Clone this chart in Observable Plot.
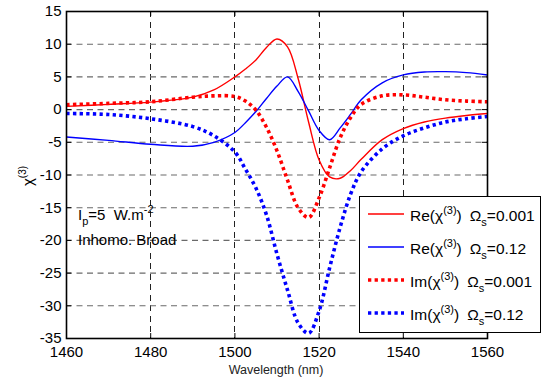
<!DOCTYPE html>
<html>
<head>
<meta charset="utf-8">
<script src="https://cdn.jsdelivr.net/npm/d3@7"></script>
<script src="https://cdn.jsdelivr.net/npm/@observablehq/plot@0.6"></script>
<style>
  html, body { margin: 0; padding: 0; background: white; }
  #chart { position: relative; width: 543px; height: 382px; }
</style>
</head>
<body>
<div id="chart"></div>
<script>
// ---- data ----
const wavelength = [1460, 1470, 1480, 1490, 1495, 1500, 1502.5, 1505, 1507.5, 1510, 1512.5, 1515, 1517.5, 1520, 1522.5, 1525, 1527.5, 1530, 1535, 1540, 1545, 1550, 1555, 1560];
const reChi001 = [0.5, 0.8, 1.15, 1.9, 3.0, 5.0, 6.2, 7.6, 9.5, 10.8, 9.6, 4.8, -1.9, -7.7, -10.3, -10.5, -9.3, -7.6, -4.6, -2.9, -1.9, -1.3, -0.9, -0.6];
const reChi012 = [-4.2, -4.7, -5.3, -5.6, -5.0, -3.5, -2.0, -0.3, 1.7, 3.6, 5.0, 2.8, -0.2, -3.2, -4.6, -2.8, -0.7, 1.5, 4.1, 5.3, 5.75, 5.8, 5.65, 5.3];
const imChi001 = [0.75, 0.95, 1.2, 1.9, 2.1, 2.0, 1.3, -0.1, -2.7, -6.3, -10.8, -15.0, -16.5, -13.5, -8.9, -4.3, -1.2, 0.8, 2.1, 2.25, 1.9, 1.5, 1.3, 1.2];
const imChi012 = [-0.6, -0.75, -1.4, -2.6, -4.0, -6.5, -9.1, -12.0, -16.1, -22.1, -27.6, -32.6, -34.2, -30.8, -24.2, -18.0, -12.9, -9.5, -6.0, -4.0, -2.8, -1.9, -1.4, -1.05];

const seriesKeys = ["re001", "re012", "im001", "im012"];
const seriesPart = ["Re", "Re", "Im", "Im"];
const seriesOmega = ["0.001", "0.12", "0.001", "0.12"];
const seriesColors = ["#ff0000", "#0000ff", "#ff0000", "#0000ff"];
const seriesDotted = [false, false, true, true];
const seriesValues = [reChi001, reChi012, imChi001, imChi012];

const xTicks = [1460, 1480, 1500, 1520, 1540, 1560];
const yTicks = [-35, -30, -25, -20, -15, -10, -5, 0, 5, 10, 15];
const xDomain = [1460, 1560];
const yDomain = [-35, 15];

const xLabel = "Wavelength (nm)";
const annotLine1 = ["I", "p", "=5  W.m", "-2"];
const annotLine2 = "Inhomo. Broad";

// ---- table ----
const rows = seriesKeys.flatMap((k, s) =>
  wavelength.map((w, i) => ({ series: k, w, v: seriesValues[s][i] })));

const font = "'Liberation Sans', Arial, Helvetica, sans-serif";
const tickLenX = 1.2;   // inward tick length in x units (~5px)
const tickLenY = 0.76;  // inward tick length in y units (~5px)

const lineMarks = seriesKeys.map((k, s) =>
  Plot.line(rows.filter(d => d.series === k), {
    x: "w", y: "v", curve: "catmull-rom",
    stroke: seriesColors[s],
    strokeWidth: seriesDotted[s] ? 3.6 : 1.4,
    strokeDasharray: seriesDotted[s] ? "3.3,3.3" : null,
    strokeLinecap: "butt"
  }));

const chart = Plot.plot({
  width: 543,
  height: 382,
  marginLeft: 66,
  marginRight: 56,
  marginTop: 11,
  marginBottom: 44,
  style: { fontFamily: font, fontSize: "15px", color: "black", background: "white", overflow: "visible" },
  x: { domain: xDomain, ticks: xTicks, tickSize: 0, tickPadding: 8, tickFormat: d => String(d), label: null },
  y: { domain: yDomain, ticks: yTicks, tickSize: 0, tickPadding: 5, tickFormat: d => String(d), label: null },
  marks: [
    Plot.ruleX(xTicks.slice(1, -1), { stroke: "#222", strokeWidth: 1, strokeDasharray: "6,4.5", shapeRendering: "crispEdges" }),
    Plot.ruleY(yTicks.slice(1, -1), { stroke: "#6a6a6a", strokeWidth: 1.1, strokeDasharray: "6,4.5" }),
    // inward ticks on all four sides
    Plot.ruleX(xTicks, { y1: yDomain[0], y2: yDomain[0] + tickLenY, stroke: "black" }),
    Plot.ruleX(xTicks, { y1: yDomain[1], y2: yDomain[1] - tickLenY, stroke: "black" }),
    Plot.ruleY(yTicks, { x1: xDomain[0], x2: xDomain[0] + tickLenX, stroke: "black" }),
    Plot.ruleY(yTicks, { x1: xDomain[1], x2: xDomain[1] - tickLenX, stroke: "black" }),
    ...lineMarks,
    Plot.frame({ stroke: "black", strokeWidth: 1.6 })
  ]
});
document.getElementById("chart").appendChild(chart);

// ---- texts and legend ----
const svg = d3.select(chart);

// x label
svg.append("text")
  .attr("x", 276).attr("y", 374)
  .attr("text-anchor", "middle")
  .attr("font-size", 12.5).attr("font-family", font).attr("fill", "#222")
  .text(xLabel);

// y label  χ^(3)
const yl = svg.append("text")
  .attr("transform", "translate(33,176) rotate(-90)")
  .attr("text-anchor", "middle")
  .attr("font-family", font).attr("font-size", 15).attr("fill", "black");
yl.append("tspan").text("χ");
yl.append("tspan").attr("dy", -7).attr("font-size", 10).text("(3)");

// annotation
const a1 = svg.append("text")
  .attr("x", 78).attr("y", 220)
  .attr("text-anchor", "start")
  .attr("font-family", font).attr("font-size", 15).attr("fill", "black");
a1.append("tspan").text(annotLine1[0]);
a1.append("tspan").attr("dy", 5).attr("font-size", 11).text(annotLine1[1]);
a1.append("tspan").attr("dy", -5).text(annotLine1[2]);
a1.append("tspan").attr("dy", -7).attr("font-size", 11).text(annotLine1[3]);

svg.append("text")
  .attr("x", 78).attr("y", 245)
  .attr("text-anchor", "start")
  .attr("font-family", font).attr("font-size", 15).attr("fill", "black")
  .text(annotLine2);

// legend
const lg = svg.append("g").attr("text-anchor", "start");
lg.append("rect")
  .attr("x", 359.5).attr("y", 196.5).attr("width", 181).attr("height", 136)
  .attr("fill", "white").attr("stroke", "black").attr("stroke-width", 1);
seriesKeys.forEach((k, s) => {
  const cy = 214 + s * 33;
  lg.append("line")
    .attr("x1", 368).attr("x2", 404).attr("y1", cy).attr("y2", cy)
    .attr("stroke", seriesColors[s])
    .attr("stroke-width", seriesDotted[s] ? 3.6 : 1.4)
    .attr("stroke-dasharray", seriesDotted[s] ? "3.3,3.3" : null);
  const t = lg.append("text")
    .attr("x", 410).attr("y", cy + 6.5)
    .attr("text-anchor", "start")
    .attr("font-family", font).attr("font-size", 15.5).attr("fill", "black");
  t.append("tspan").text(seriesPart[s] + "(χ");
  t.append("tspan").attr("dy", -7).attr("font-size", 11).text("(3)");
  t.append("tspan").attr("dy", 7).text(")");
  t.append("tspan").attr("dx", 8).text("Ω");
  t.append("tspan").attr("dy", 5).attr("font-size", 11).text("s");
  t.append("tspan").attr("dy", -5).text("=" + seriesOmega[s]);
});
</script>
</body>
</html>
